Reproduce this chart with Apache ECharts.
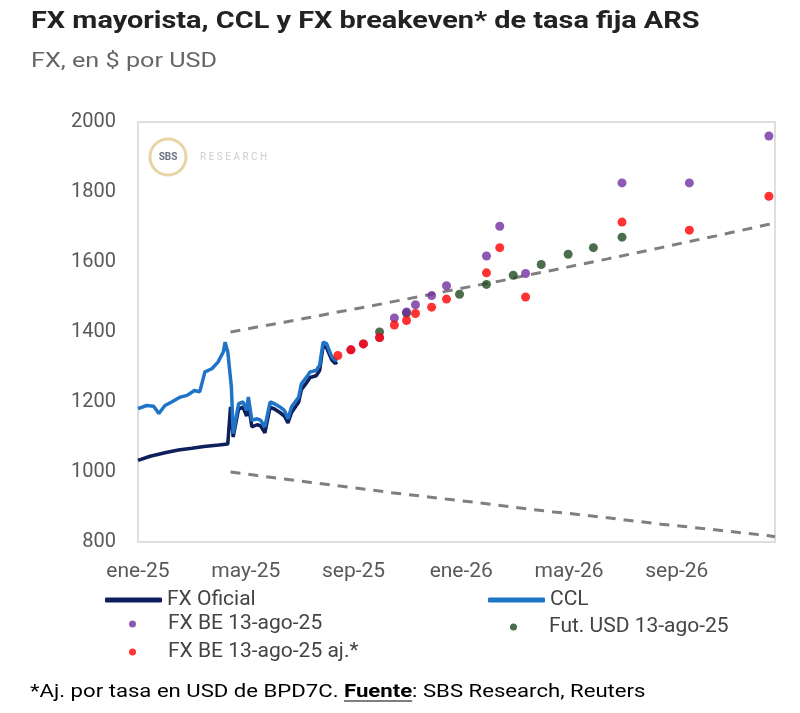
<!DOCTYPE html>
<html>
<head>
<meta charset="utf-8">
<script src="https://cdn.jsdelivr.net/npm/echarts@6/dist/echarts.min.js"></script>
<style>
html,body{margin:0;padding:0;background:#fff;}
#chart{width:800px;height:713px;}
</style>
</head>
<body>
<div id="chart"></div>
<script>
// ---------- data ----------
const tickLabels = ['ene-25','may-25','sep-25','ene-26','may-26','sep-26'];
const xMaxDate = '2026-12-21';

const officialDates = ['2025-01-01','2025-01-15','2025-02-01','2025-02-15','2025-03-01','2025-03-15','2025-04-01','2025-04-11','2025-04-14','2025-04-17','2025-04-23','2025-04-28','2025-05-02','2025-05-04','2025-05-08','2025-05-14','2025-05-18','2025-05-23','2025-05-29','2025-06-03','2025-06-09','2025-06-14','2025-06-18','2025-06-22','2025-06-30','2025-07-03','2025-07-09','2025-07-13','2025-07-20','2025-07-24','2025-07-28','2025-08-01','2025-08-07','2025-08-11','2025-08-13'];
const officialValues = [1033,1045,1055,1063,1068,1073,1077,1080,1186,1100,1180,1185,1160,1195,1129,1135,1132,1112,1185,1180,1170,1160,1140,1170,1200,1235,1255,1270,1275,1290,1360,1355,1320,1310,1315];

const cclDates = ['2025-01-01','2025-01-11','2025-01-19','2025-01-25','2025-02-01','2025-02-08','2025-02-17','2025-02-24','2025-03-04','2025-03-10','2025-03-16','2025-03-24','2025-03-31','2025-04-06','2025-04-08','2025-04-11','2025-04-15','2025-04-17','2025-04-23','2025-04-28','2025-05-02','2025-05-04','2025-05-08','2025-05-14','2025-05-18','2025-05-23','2025-05-29','2025-06-03','2025-06-09','2025-06-14','2025-06-18','2025-06-22','2025-06-30','2025-07-03','2025-07-09','2025-07-13','2025-07-20','2025-07-24','2025-07-28','2025-08-01','2025-08-07','2025-08-11','2025-08-13'];
const cclValues = [1181,1190,1188,1167,1190,1200,1214,1219,1233,1229,1286,1295,1314,1343,1371,1343,1243,1110,1195,1200,1176,1214,1148,1152,1148,1129,1200,1195,1186,1176,1152,1186,1214,1252,1271,1286,1290,1305,1371,1367,1329,1319,1322];

const bandDates = ['2025-04-14','2025-05-14','2025-06-14','2025-07-14','2025-08-14','2025-09-14','2025-10-14','2025-11-14','2025-12-14','2026-01-14','2026-02-14','2026-03-14','2026-04-14','2026-05-14','2026-06-14','2026-07-14','2026-08-14','2026-09-14','2026-10-14','2026-11-14','2026-12-14','2026-12-21'];
const upperBand = [1400,1414,1428,1442,1457,1471,1486,1501,1516,1531,1546,1562,1577,1593,1609,1625,1641,1658,1674,1691,1708,1712];
const lowerBand = [1000,990,980,970,961,951,941,932,923,914,904,895,886,878,869,860,851,843,835,826,818,815];

const beDates = ['2025-08-29','2025-09-12','2025-09-30','2025-10-17','2025-10-31','2025-11-10','2025-11-28','2025-12-15','2026-01-30','2026-02-13','2026-03-13','2026-06-30','2026-09-15','2026-12-14'];
const beValues = [1349,1366,1384,1440,1457,1478,1504,1532,1617,1702,1567,1826,1826,1960];

const beAdjDates = ['2025-08-14','2025-08-29','2025-09-12','2025-09-30','2025-10-17','2025-10-31','2025-11-10','2025-11-28','2025-12-15','2026-01-30','2026-02-13','2026-03-13','2026-06-30','2026-09-15','2026-12-14'];
const beAdjValues = [1333,1349,1366,1384,1420,1433,1453,1471,1494,1569,1641,1500,1714,1691,1788];

const futDates = ['2025-09-30','2025-10-31','2025-12-30','2026-01-30','2026-02-27','2026-03-31','2026-04-30','2026-05-29','2026-06-30'];
const futValues = [1400,1454,1508,1536,1562,1593,1622,1641,1671];

// ---------- helpers ----------
function monthIndex(s){
  const p = s.split('-').map(Number);
  const dim = new Date(p[0], p[1], 0).getDate();
  return (p[0]-2025)*12 + (p[1]-1) + (p[2]-1)/dim;
}
function pairs(dates, vals){ return dates.map((d,i)=>[monthIndex(d), vals[i]]); }

const FONT = 'Roboto';
const C_OFF = '#0f1f5c', C_CCL = '#1f74c8', C_BE = '#7030a0', C_ADJ = '#ff0000', C_FUT = '#1f4a1f', C_BAND = '#7f7f7f';

const chart = echarts.init(document.getElementById('chart'), null, {renderer:'canvas'});

function lineLegend(name, left, top){
  return {data:[name], left:left, top:top, padding:0, selectedMode:false, icon:'roundRect',
    itemWidth:57, itemHeight:5, textStyle:{fontFamily:FONT, fontSize:21, color:'#444', lineHeight:22}};
}
function dotLegend(name, left, top){
  return {data:[name], left:left, top:top, padding:0, selectedMode:false, icon:'circle',
    itemWidth:7, itemHeight:7, textStyle:{fontFamily:FONT, fontSize:21, color:'#444', lineHeight:22, padding:[0,0,0,27]}};
}

// text measurement for the footer underline
const mctx = document.createElement('canvas').getContext('2d');
function tw(str, font){ mctx.font = font; return mctx.measureText(str).width; }
const FOOT_S = 1.165;
const footPre = '*Aj. por tasa en USD de BPD7C. ';
const w1 = tw(footPre, '19px '+FONT);
const w2 = tw('Fuente', 'bold 19px '+FONT);

const option = {
  animation:false,
  backgroundColor:'#fff',
  legend:[
    lineLegend('FX Oficial', 105, 589),
    lineLegend('CCL', 488, 589),
    dotLegend('FX BE 13-ago-25', 129, 613),
    dotLegend('Fut. USD 13-ago-25', 510, 616),
    dotLegend('FX BE 13-ago-25 aj.*', 129, 641)
  ],
  grid:{left:138, top:122, right:25, bottom:171, show:true, borderColor:'#dedede', borderWidth:2, backgroundColor:'#fff'},
  xAxis:{type:'value', min:0, max:monthIndex(xMaxDate), interval:4,
    axisLine:{show:false}, axisTick:{show:false}, splitLine:{show:false},
    axisLabel:{fontFamily:FONT, fontSize:21, color:'#595959', margin:19, showMaxLabel:false,
      formatter:function(v){ const k=v/4; return Number.isInteger(k) && tickLabels[k] ? tickLabels[k] : ''; }}},
  yAxis:{type:'value', min:800, max:2000, interval:200,
    axisLine:{show:false}, axisTick:{show:false}, splitLine:{show:false},
    axisLabel:{fontFamily:FONT, fontSize:20, color:'#595959', margin:22, formatter:function(v){ return String(v); }}},
  graphic:[
    {type:'text', x:31, y:22, scaleX:1.256, style:{text:'FX mayorista, CCL y FX breakeven* de tasa fija ARS', fill:'#222', font:'bold 23px '+FONT, verticalAlign:'middle'}},
    {type:'text', x:31, y:62, scaleX:1.26, style:{text:'FX, en $ por USD', fill:'#666', font:'20px '+FONT, verticalAlign:'middle'}},
    {type:'circle', shape:{cx:168, cy:157, r:18}, style:{fill:'#fff', stroke:'#e8d3a6', lineWidth:3}, z:1},
    {type:'text', x:168, y:157, style:{text:'SBS', fill:'#6d7486', font:'bold 10px '+FONT, align:'center', verticalAlign:'middle'}, z:1},
    {type:'text', x:200, y:157, style:{text:'R E S E A R C H', fill:'#cfcfcf', font:'10px '+FONT, verticalAlign:'middle'}, z:1},
    {type:'text', x:30, y:692, scaleX:FOOT_S, style:{
      text:'{n|'+footPre+'}{b|Fuente}{n|: SBS Research, Reuters}', verticalAlign:'middle',
      rich:{n:{fontFamily:FONT, fontSize:19, color:'#555'}, b:{fontFamily:FONT, fontSize:19, fontWeight:'bold', color:'#555'}}}},
    {type:'line', shape:{x1:30+w1*FOOT_S, y1:701, x2:30+(w1+w2)*FOOT_S, y2:701}, style:{stroke:'#555', lineWidth:1.5}}
  ],
  series:[
    {name:'Banda sup', type:'line', data:pairs(bandDates, upperBand), showSymbol:false, silent:true,
     lineStyle:{color:C_BAND, width:3, type:[10,8]}, z:2},
    {name:'Banda inf', type:'line', data:pairs(bandDates, lowerBand), showSymbol:false, silent:true,
     lineStyle:{color:C_BAND, width:3, type:[10,8]}, z:2},
    {name:'FX Oficial', type:'line', data:pairs(officialDates, officialValues), showSymbol:false,
     color:C_OFF, lineStyle:{color:C_OFF, width:3.5}, z:3},
    {name:'CCL', type:'line', data:pairs(cclDates, cclValues), showSymbol:false,
     color:C_CCL, lineStyle:{color:C_CCL, width:3.5}, z:4},
    {name:'Fut. USD 13-ago-25', type:'scatter', data:pairs(futDates, futValues), symbolSize:9,
     color:C_FUT, itemStyle:{color:C_FUT}, z:5},
    {name:'FX BE 13-ago-25', type:'scatter', data:pairs(beDates, beValues), symbolSize:9,
     color:C_BE, itemStyle:{color:C_BE}, z:6},
    {name:'FX BE 13-ago-25 aj.*', type:'scatter', data:pairs(beAdjDates, beAdjValues), symbolSize:9,
     color:C_ADJ, itemStyle:{color:C_ADJ}, z:7}
  ]
};
chart.setOption(option);
</script>
</body>
</html>
